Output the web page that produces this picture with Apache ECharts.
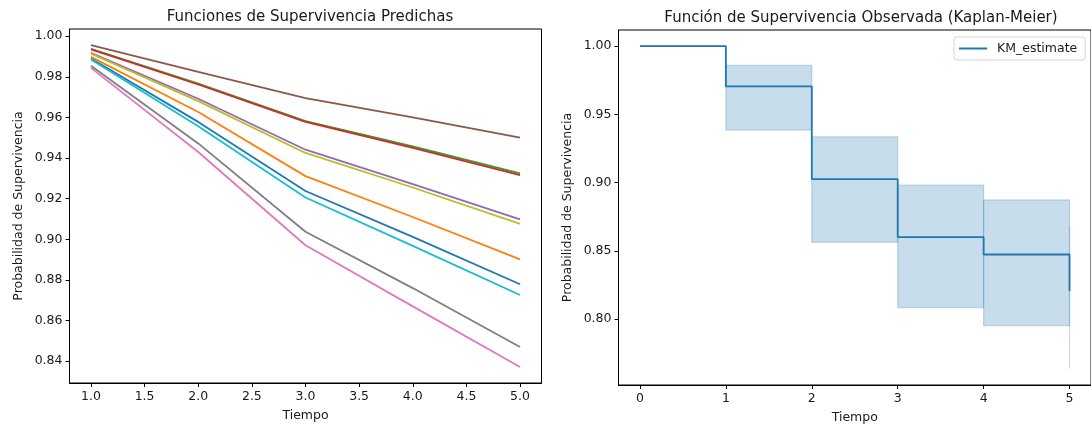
<!DOCTYPE html>
<html>
<head>
<meta charset="utf-8">
<script src="https://cdn.jsdelivr.net/npm/echarts@6/dist/echarts.min.js"></script>
<style>
  html, body { margin: 0; padding: 0; background: #fff; }
  #chart { width: 1091px; height: 432px; }
</style>
</head>
<body>
<div id="chart"></div>
<script>
// tiempos de las curvas predichas
var tiempos = [1, 2, 3, 4, 5];
// curvas de supervivencia predichas (orden de colores tab10)
var curva0 = [0.9890, 0.9578, 0.9238, 0.9012, 0.8779];
var curva1 = [0.9898, 0.9627, 0.9311, 0.9110, 0.8901];
var curva2 = [0.9938, 0.9766, 0.9582, 0.9457, 0.9325];
var curva3 = [0.9935, 0.9762, 0.9578, 0.9450, 0.9316];
var curva4 = [0.9918, 0.9692, 0.9441, 0.9272, 0.9098];
var curva5 = [0.9956, 0.9824, 0.9695, 0.9600, 0.9501];
var curva6 = [0.9844, 0.9430, 0.8971, 0.8670, 0.8372];
var curva7 = [0.9854, 0.9472, 0.9037, 0.8760, 0.8470];
var curva8 = [0.9914, 0.9680, 0.9425, 0.9255, 0.9076];
var curva9 = [0.9885, 0.9557, 0.9206, 0.8968, 0.8726];
var curvas = [curva0, curva1, curva2, curva3, curva4, curva5, curva6, curva7, curva8, curva9];
var colores = ['#1f77b4', '#ff7f0e', '#2ca02c', '#d62728', '#9467bd',
               '#8c564b', '#e377c2', '#7f7f7f', '#bcbd22', '#17becf'];

// Kaplan-Meier
var kmTiempo = [0, 1, 2, 3, 4, 5];
var kmValor  = [1.0, 0.9705, 0.9025, 0.8601, 0.8473, 0.8206];
var ciInf    = [1.0, 0.9385, 0.8562, 0.8084, 0.7951, 0.7635];
var ciSup    = [1.0, 0.9859, 0.9336, 0.8981, 0.8873, 0.8680];

// marcas de los ejes
var ticksX1 = [1.0, 1.5, 2.0, 2.5, 3.0, 3.5, 4.0, 4.5, 5.0];
var ticksY1 = [0.84, 0.86, 0.88, 0.90, 0.92, 0.94, 0.96, 0.98, 1.00];
var ticksX2 = [0, 1, 2, 3, 4, 5];
var ticksY2 = [0.80, 0.85, 0.90, 0.95, 1.00];

var FUENTE = 'DejaVu Sans';
var TXT = '#1a1a1a';

// margen del 5% como matplotlib
function limites(valores) {
  var mn = Math.min.apply(null, valores), mx = Math.max.apply(null, valores);
  var m = (mx - mn) * 0.05;
  return [mn - m, mx + m];
}
var limY1 = limites([].concat.apply([], curvas));
var limY2 = limites(kmValor.concat(ciInf, ciSup));
var limX1 = limites(tiempos);
var limX2 = limites(kmTiempo);

function eje(tipo, idx, lim, ticks, dec, nombre, gap) {
  var a = {
    type: 'value',
    gridIndex: idx,
    min: lim[0],
    max: lim[1],
    name: nombre,
    nameLocation: 'middle',
    nameGap: gap,
    nameTextStyle: { fontFamily: FUENTE, fontSize: 12.5, color: TXT },
    axisLine: { show: true, onZero: false, lineStyle: { color: '#000', width: 1 } },
    splitLine: { show: false },
    axisTick: { show: true, inside: false, length: 4, customValues: ticks, lineStyle: { color: '#000', width: 1 } },
    axisLabel: {
      customValues: ticks,
      margin: 7,
      fontFamily: FUENTE, fontSize: 12.5, color: TXT,
      formatter: function (v) { return v.toFixed(dec); }
    }
  };
  if (tipo === 'y') a.nameRotate = 90;
  return a;
}

var series = curvas.map(function (c, i) {
  return {
    type: 'line',
    xAxisIndex: 0, yAxisIndex: 0,
    data: tiempos.map(function (t, j) { return [t, c[j]]; }),
    symbol: 'none',
    lineStyle: { color: colores[i], width: 1.8 },
    itemStyle: { color: colores[i] },
    z: 2 + i
  };
});

// banda de confianza: un rectangulo por intervalo
var banda = kmTiempo.map(function (t, i) {
  var t1 = i < kmTiempo.length - 1 ? kmTiempo[i + 1] : t;
  return [t, t1, ciInf[i], ciSup[i]];
});
series.push({
  type: 'custom',
  name: 'ci',
  xAxisIndex: 1, yAxisIndex: 1,
  data: banda,
  encode: { x: [0, 1], y: [2, 3] },
  renderItem: function (params, api) {
    var p0 = api.coord([api.value(0), api.value(3)]);
    var p1 = api.coord([api.value(1), api.value(2)]);
    return {
      type: 'rect',
      shape: { x: p0[0], y: p0[1], width: p1[0] - p0[0], height: p1[1] - p0[1] },
      style: { fill: 'rgba(31,119,180,0.25)', stroke: 'rgba(31,119,180,0.25)', lineWidth: 1.2 }
    };
  },
  z: 1
});
series.push({
  type: 'line',
  name: 'KM_estimate',
  xAxisIndex: 1, yAxisIndex: 1,
  data: kmTiempo.map(function (t, i) { return [t, kmValor[i]]; }),
  step: 'end',
  symbol: 'none',
  lineStyle: { color: '#1f77b4', width: 1.8 },
  itemStyle: { color: '#1f77b4' },
  z: 5
});

var chart = echarts.init(document.getElementById('chart'));
chart.setOption({
  animation: false,
  backgroundColor: '#fff',
  title: [{
    text: 'Funciones de Supervivencia Predichas',
    left: 305, top: 5, textAlign: 'center',
    textStyle: { fontFamily: FUENTE, fontSize: 15, fontWeight: 'normal', color: TXT }
  }, {
    text: 'Función de Supervivencia Observada (Kaplan-Meier)',
    left: 856, top: 6, textAlign: 'center',
    textStyle: { fontFamily: FUENTE, fontSize: 15, fontWeight: 'normal', color: TXT }
  }],
  legend: {
    data: [{ name: 'KM_estimate', icon: 'rect' }],
    left: 954, top: 37,
    orient: 'vertical',
    padding: [5, 8, 5, 5],
    itemWidth: 28, itemHeight: 2,
    itemGap: 4,
    borderColor: '#d5d5d5', borderWidth: 1, borderRadius: 3,
    backgroundColor: 'rgba(255,255,255,0.8)',
    textStyle: { fontFamily: FUENTE, fontSize: 12.5, color: TXT, lineHeight: 13, padding: [0, 0, 0, 5] }
  },
  grid: [
    { left: 69.5, top: 29, width: 472, height: 354, show: true, borderColor: '#000', borderWidth: 1, backgroundColor: 'transparent' },
    { left: 618.5, top: 30, width: 475.5, height: 355, show: true, borderColor: '#000', borderWidth: 1, backgroundColor: 'transparent' }
  ],
  xAxis: [
    eje('x', 0, limX1, ticksX1, 1, 'Tiempo', 26),
    eje('x', 1, limX2, ticksX2, 0, 'Tiempo', 26)
  ],
  yAxis: [
    eje('y', 0, limY1, ticksY1, 2, 'Probabilidad de Supervivencia', 44),
    eje('y', 1, limY2, ticksY2, 2, 'Probabilidad de Supervivencia', 44)
  ],
  series: series
});
</script>
</body>
</html>
